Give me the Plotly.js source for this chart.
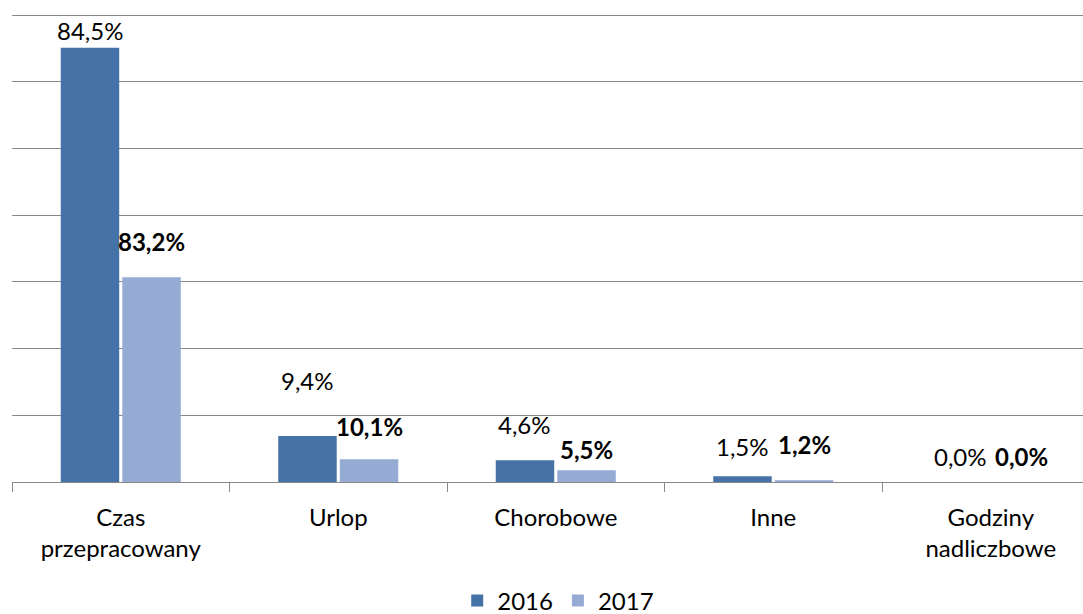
<!DOCTYPE html>
<html>
<head>
<meta charset="utf-8">
<script src="https://cdn.plot.ly/plotly-3.0.1.min.js"></script>
<style>
  html, body { margin: 0; padding: 0; background: #ffffff; }
  #chart { width: 1083px; height: 614px; }
</style>
</head>
<body>
<div id="chart"></div>
<script>
// ---- data ----
const categories = ['Czas przepracowany', 'Urlop', 'Chorobowe', 'Inne', 'Godziny nadliczbowe'];
const tickLabels = ['Czas<br>przepracowany', 'Urlop', 'Chorobowe', 'Inne', 'Godziny<br>nadliczbowe'];
const seriesNames = ['2016', '2017'];
// bar heights as drawn in the picture (unlabelled axis units)
const bars2016 = [65.1, 6.9, 3.25, 0.85, 0];
const bars2017 = [30.7, 3.4, 1.75, 0.25, 0];
// data labels as printed
const labels2016 = ['84,5%', '9,4%', '4,6%', '1,5%', '0,0%'];
const labels2017 = ['83,2%', '10,1%', '5,5%', '1,2%', '0,0%'];

// ---- styling ----
const colors = ['#4572A7', '#95ABD3'];
const FONT = 'Lato, "Open Sans", sans-serif';
const bargap = 0.434;
const bargroupgap = 0.05;
// vertical offset (px) of each label above its bar top
const shift2016 = [17, 55, 36, 30, 26];
const shift2017 = [36, 33, 21, 36, 26];

const traces = [
  { type: 'bar', name: seriesNames[0], x: categories, y: bars2016,
    marker: { color: colors[0], line: { width: 0 } }, hoverinfo: 'skip' },
  { type: 'bar', name: seriesNames[1], x: categories, y: bars2017,
    marker: { color: colors[1], line: { width: 0 } }, hoverinfo: 'skip' }
];

const slot = (1 - bargap) / 2;
const annotations = [];
categories.forEach((c, i) => {
  annotations.push({
    x: i - slot / 2, y: bars2016[i], xref: 'x', yref: 'y',
    text: labels2016[i], showarrow: false, yanchor: 'middle', xanchor: 'center',
    yshift: shift2016[i], font: { family: FONT, size: 24, color: '#000' }
  });
  annotations.push({
    x: i + slot / 2, y: bars2017[i], xref: 'x', yref: 'y',
    text: '<b>' + labels2017[i] + '</b>', showarrow: false, yanchor: 'middle', xanchor: 'center',
    yshift: shift2017[i], font: { family: FONT, size: 24, color: '#000' }
  });
});

const layout = {
  width: 1083, height: 614,
  margin: { l: 12, r: 0, t: 11, b: 132, pad: 0, autoexpand: false },
  paper_bgcolor: '#ffffff', plot_bgcolor: '#ffffff',
  font: { family: FONT, size: 24, color: '#000' },
  barmode: 'group', bargap: bargap, bargroupgap: bargroupgap,
  showlegend: true,
  legend: { orientation: 'h', x: 0.51, xanchor: 'center', y: -0.2527, yanchor: 'middle',
            font: { family: FONT, size: 24, color: '#000' }, traceorder: 'normal' },
  xaxis: {
    type: 'category', categoryarray: categories, categoryorder: 'array',
    tickvals: categories, ticktext: tickLabels,
    range: [-0.5, 4.424], fixedrange: true, automargin: false,
    showline: true, linecolor: '#888888', linewidth: 1,
    ticks: 'outside', tickson: 'boundaries', ticklen: 9, tickcolor: '#888888', tickwidth: 1,
    ticklabelstandoff: 14,
    showgrid: false, zeroline: false,
    tickfont: { family: FONT, size: 24, color: '#000' }
  },
  yaxis: {
    range: [0, 70.6], dtick: 10, tick0: 0, fixedrange: true, automargin: false,
    showgrid: true, gridcolor: '#888888', gridwidth: 1,
    showticklabels: false, zeroline: false, showline: false, ticks: ''
  },
  annotations: annotations
};

Plotly.newPlot('chart', traces, layout, { displayModeBar: false, staticPlot: true });
</script>
</body>
</html>
